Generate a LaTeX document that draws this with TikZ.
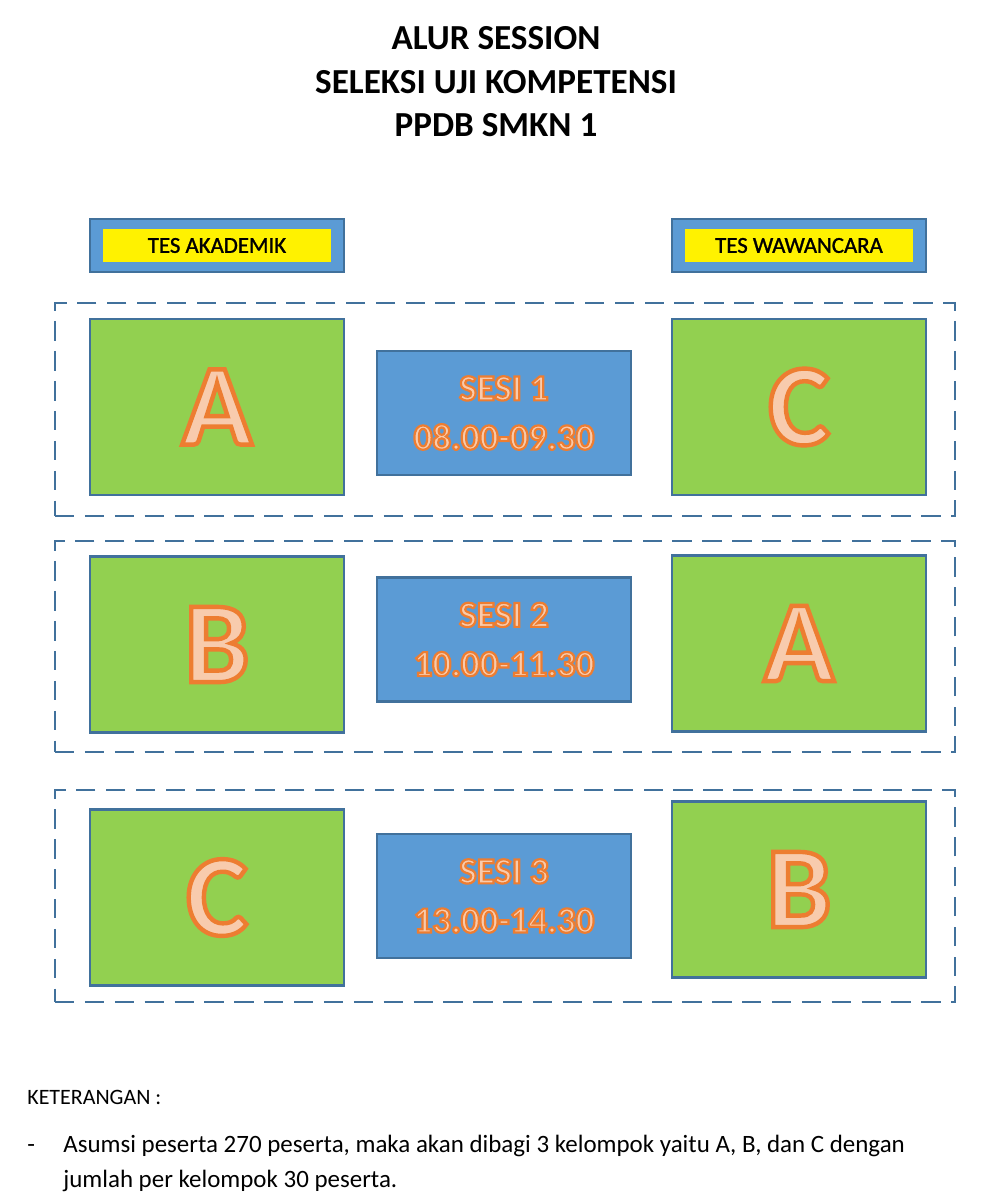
\documentclass[tikz,border=0pt]{standalone}
\usepackage{fontspec}
\setmainfont{Carlito}
\newfontfamily\outlinefont[FakeBold=3.8]{Carlito Bold}
\newfontfamily\sesifont[FakeBold=6]{Carlito Bold}
\newfontfamily\hdrfont[FakeBold=1.2]{Carlito}
\usetikzlibrary{positioning}

\definecolor{grpgreen}{HTML}{92D050}
\definecolor{sesiblue}{HTML}{5B9BD5}
\definecolor{edgeblue}{HTML}{41719C}
\definecolor{peach}{HTML}{F8CBAD}
\definecolor{letterorange}{HTML}{ED7D31}

% peach letters with an orange rim (fill + stroke render mode)
\newcommand{\bigletter}[1]{\special{pdf:code q 0.929 0.490 0.192 RG}{\outlinefont #1}\special{pdf:code Q}}
\newcommand{\sesiline}[1]{\special{pdf:code q 0.929 0.490 0.192 RG}{\sesifont #1}\special{pdf:code Q}}

\begin{document}
\begin{tikzpicture}[x=0.02cm, y=-0.02cm,
    box/.style={draw=edgeblue, line width=1.6pt, inner sep=0pt},
    grpbox/.style={box, fill=grpgreen, minimum width=5.08cm, minimum height=3.52cm,
        text=peach, font=\fontsize{66}{70}\selectfont},
    sesibox/.style={box, fill=sesiblue, minimum width=5.08cm, minimum height=2.48cm,
        text=peach, align=center, font=\fontsize{21}{28}\selectfont},
    hdrbox/.style={box, fill=sesiblue, minimum width=5.08cm, minimum height=1.06cm},
    hdrlabel/.style={fill=yellow, inner sep=0pt, minimum width=4.56cm, minimum height=0.66cm,
        font=\hdrfont\fontsize{13}{15}\selectfont},
    rowframe/.style={draw=edgeblue, line width=1.6pt, dash pattern=on 11pt off 6pt,
        minimum width=18cm},
    titleline/.style={anchor=base, inner sep=0pt, font=\fontsize{20}{24}\selectfont\bfseries},
    notetext/.style={anchor=base west, inner sep=0pt, font=\fontsize{14.2}{17}\selectfont},
]
    \useasboundingbox (0,0) rectangle (1003,1200);

    % Title
    \node[titleline] (title1) at (496,50) {ALUR SESSION};
    \node[titleline] (title2) at (496,93) {SELEKSI UJI KOMPETENSI};
    \node[titleline] (title3) at (496,136) {PPDB SMKN 1};

    % Column headers
    \node[hdrbox] (hdrakad) at (217,245.5) {};
    \node[hdrlabel] (lblakad) at (hdrakad.center) {TES AKADEMIK};
    \node[hdrbox] (hdrwawan) at (799,245.5) {};
    \node[hdrlabel] (lblwawan) at (hdrwawan.center) {TES WAWANCARA};

    % Session frames
    \node[rowframe, minimum height=4.26cm] (frame1) at (505,409.5) {};
    \node[rowframe, minimum height=4.22cm] (frame2) at (505,646.5) {};
    \node[rowframe, minimum height=4.24cm] (frame3) at (505,896) {};

    % Session 1
    \node[grpbox] (akad1) at (217,407) {\bigletter{A}};
    \node[sesibox] (sesi1) at (504,413) {\sesiline{SESI 1}\\\sesiline{08.00-09.30}};
    \node[grpbox] (wawan1) at (799,407) {\bigletter{C}};

    % Session 2
    \node[grpbox] (akad2) at (217,644.5) {\bigletter{B}};
    \node[sesibox] (sesi2) at (504,639.5) {\sesiline{SESI 2}\\\sesiline{10.00-11.30}};
    \node[grpbox] (wawan2) at (799,643.5) {\bigletter{A}};

    % Session 3
    \node[grpbox] (akad3) at (217,897.5) {\bigletter{C}};
    \node[sesibox] (sesi3) at (504,896) {\sesiline{SESI 3}\\\sesiline{13.00-14.30}};
    \node[grpbox] (wawan3) at (799,889.5) {\bigletter{B}};

    % Notes
    \node[notetext, font=\fontsize{12.5}{15}\selectfont] (ket) at (27,1104) {KETERANGAN :};
    \node[notetext] (dash) at (27,1152) {-};
    \node[notetext] (note1) at (63,1152) {Asumsi peserta 270 peserta, maka akan dibagi 3 kelompok yaitu A, B, dan C dengan};
    \node[notetext] (note2) at (63,1187) {jumlah per kelompok 30 peserta.};
\end{tikzpicture}
\end{document}
